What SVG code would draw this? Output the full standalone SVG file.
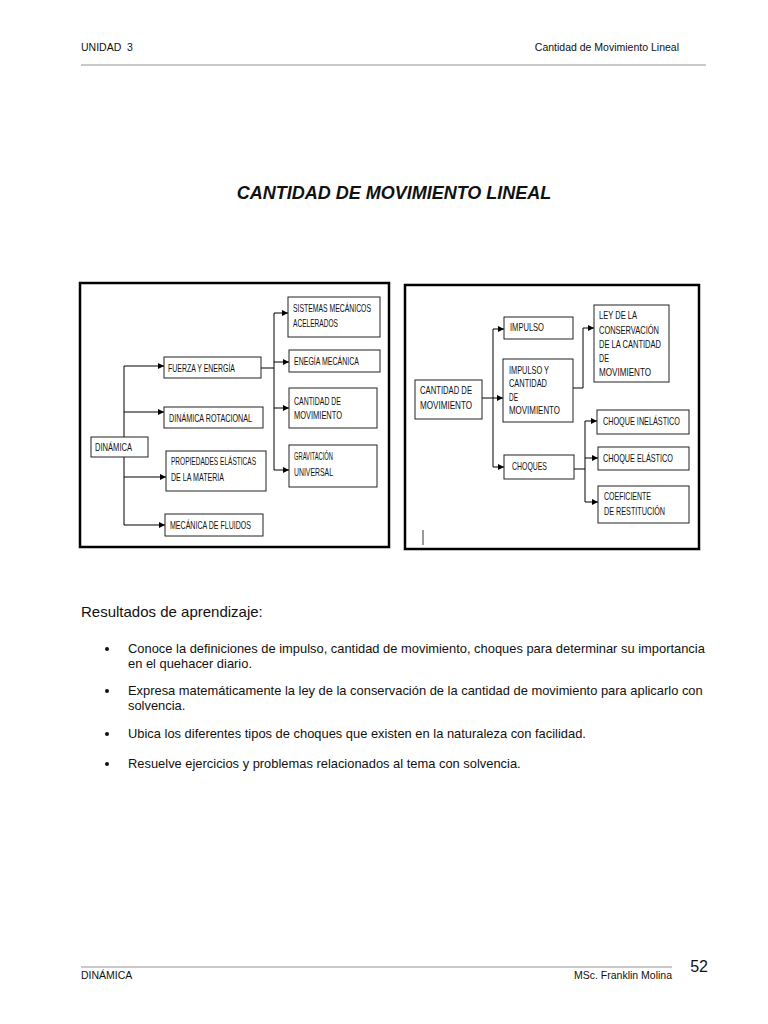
<svg xmlns="http://www.w3.org/2000/svg" width="768" height="1024" viewBox="0 0 768 1024">
<style>
.hd{font-family:"Liberation Sans",Arial,sans-serif;font-size:10.5px;fill:#111}
.bt{font-family:"Liberation Sans",Arial,sans-serif;font-size:12.9px;fill:#111}
.bx{fill:#fff;stroke:#222;stroke-width:1}
.fr{fill:#fff;stroke:#000;stroke-width:2.5}
.t{font-family:"Liberation Sans",Arial,sans-serif;font-size:10.3px;fill:#111}
.c{fill:none;stroke:#000;stroke-width:1}
</style>
<defs>
<marker id="ar" viewBox="0 0 6 6" refX="6" refY="3" markerWidth="6" markerHeight="6" markerUnits="userSpaceOnUse" orient="auto">
<path d="M0,0 L6,3 L0,6 z" fill="#000"/>
</marker>
</defs>
<rect width="768" height="1024" fill="#fff"/>
<text class="hd" x="81" y="51" xml:space="preserve">UNIDAD  3</text>
<text class="hd" x="679" y="51" text-anchor="end">Cantidad de Movimiento Lineal</text>
<line x1="81" y1="65" x2="706" y2="65" stroke="#777" stroke-width="0.8"/>
<text x="394" y="199" text-anchor="middle" font-family="Liberation Sans,Arial,sans-serif" font-size="18" font-weight="bold" font-style="italic" fill="#111">CANTIDAD DE MOVIMIENTO LINEAL</text>

<rect class="fr" x="80" y="283" width="309" height="264"/>
<rect class="fr" x="405" y="285" width="294" height="264"/>
<line x1="423" y1="530" x2="423" y2="545" stroke="#000" stroke-width="0.8"/>

<g id="connectors">
<path class="c" d="M124,366 V525"/>
<path class="c" d="M124,366 H164" marker-end="url(#ar)"/>
<path class="c" d="M124,412 H164" marker-end="url(#ar)"/>
<path class="c" d="M124,477 H166" marker-end="url(#ar)"/>
<path class="c" d="M124,525 H165" marker-end="url(#ar)"/>
<path class="c" d="M261,368 H274"/>
<path class="c" d="M274,313 V470"/>
<path class="c" d="M274,313 H288" marker-end="url(#ar)"/>
<path class="c" d="M274,362 H289" marker-end="url(#ar)"/>
<path class="c" d="M274,408 H289" marker-end="url(#ar)"/>
<path class="c" d="M274,470 H289" marker-end="url(#ar)"/>
<path class="c" d="M482,398 H503" marker-end="url(#ar)"/>
<path class="c" d="M493,329 V467"/>
<path class="c" d="M493,329 H504" marker-end="url(#ar)"/>
<path class="c" d="M493,467 H504" marker-end="url(#ar)"/>
<path class="c" d="M573,388 H583 V328 H594" marker-end="url(#ar)"/>
<path class="c" d="M574,469 H585"/>
<path class="c" d="M585,421 V502"/>
<path class="c" d="M585,421 H597" marker-end="url(#ar)"/>
<path class="c" d="M585,458 H598" marker-end="url(#ar)"/>
<path class="c" d="M585,502 H598" marker-end="url(#ar)"/>
</g>

<g id="n-dinamica"><rect class="bx" x="91" y="437" width="57" height="20"/><text class="t" x="95" y="451" textLength="37" lengthAdjust="spacingAndGlyphs">DINÁMICA</text></g>
<g id="n-fuerza"><rect class="bx" x="164" y="357" width="97" height="21"/><text class="t" x="168" y="372" textLength="67" lengthAdjust="spacingAndGlyphs">FUERZA Y ENERGÍA</text></g>
<g id="n-rotacional"><rect class="bx" x="164" y="407" width="99" height="21"/><text class="t" x="169" y="422" textLength="83" lengthAdjust="spacingAndGlyphs">DINÁMICA ROTACIONAL</text></g>
<g id="n-propiedades"><rect class="bx" x="166" y="451" width="100" height="40"/><text class="t" x="171" y="465" textLength="85" lengthAdjust="spacingAndGlyphs">PROPIEDADES ELÁSTICAS</text><text class="t" x="171" y="481" textLength="53" lengthAdjust="spacingAndGlyphs">DE LA MATERIA</text></g>
<g id="n-fluidos"><rect class="bx" x="165" y="514" width="98" height="22"/><text class="t" x="170" y="529" textLength="81" lengthAdjust="spacingAndGlyphs">MECÁNICA DE FLUIDOS</text></g>
<g id="n-sistemas"><rect class="bx" x="288" y="297" width="92" height="40"/><text class="t" x="293" y="312" textLength="78" lengthAdjust="spacingAndGlyphs">SISTEMAS MECÁNICOS</text><text class="t" x="293" y="327" textLength="45" lengthAdjust="spacingAndGlyphs">ACELERADOS</text></g>
<g id="n-enegia"><rect class="bx" x="289" y="350" width="91" height="22"/><text class="t" x="294" y="365" textLength="65" lengthAdjust="spacingAndGlyphs">ENEGÍA MECÁNICA</text></g>
<g id="n-cantidad1"><rect class="bx" x="289" y="388" width="88" height="40"/><text class="t" x="294" y="405" textLength="47" lengthAdjust="spacingAndGlyphs">CANTIDAD DE</text><text class="t" x="294" y="419" textLength="48" lengthAdjust="spacingAndGlyphs">MOVIMIENTO</text></g>
<g id="n-gravitacion"><rect class="bx" x="289" y="445" width="88" height="42"/><text class="t" x="294" y="460" textLength="39" lengthAdjust="spacingAndGlyphs">GRAVITACIÓN</text><text class="t" x="294" y="476" textLength="39" lengthAdjust="spacingAndGlyphs">UNIVERSAL</text></g>

<g id="n-cantidad2"><rect class="bx" x="415" y="380" width="67" height="39"/><text class="t" x="420" y="394" textLength="52" lengthAdjust="spacingAndGlyphs">CANTIDAD DE</text><text class="t" x="420" y="409" textLength="52" lengthAdjust="spacingAndGlyphs">MOVIMIENTO</text></g>
<g id="n-impulso"><rect class="bx" x="504" y="317" width="69" height="22"/><text class="t" x="510" y="331" textLength="34" lengthAdjust="spacingAndGlyphs">IMPULSO</text></g>
<g id="n-impulsoy"><rect class="bx" x="503" y="359" width="70" height="63"/><text class="t" x="509" y="374" textLength="40" lengthAdjust="spacingAndGlyphs">IMPULSO Y</text><text class="t" x="509" y="387" textLength="38" lengthAdjust="spacingAndGlyphs">CANTIDAD</text><text class="t" x="509" y="401" textLength="9" lengthAdjust="spacingAndGlyphs">DE</text><text class="t" x="509" y="414" textLength="51" lengthAdjust="spacingAndGlyphs">MOVIMIENTO</text></g>
<g id="n-choques"><rect class="bx" x="504" y="455" width="70" height="24"/><text class="t" x="512" y="470" textLength="35" lengthAdjust="spacingAndGlyphs">CHOQUES</text></g>
<g id="n-ley"><rect class="bx" x="594" y="305" width="75" height="77"/><text class="t" x="599" y="319" textLength="38" lengthAdjust="spacingAndGlyphs">LEY DE LA</text><text class="t" x="599" y="334" textLength="60" lengthAdjust="spacingAndGlyphs">CONSERVACIÓN</text><text class="t" x="599" y="348" textLength="62" lengthAdjust="spacingAndGlyphs">DE LA CANTIDAD</text><text class="t" x="599" y="362" textLength="10" lengthAdjust="spacingAndGlyphs">DE</text><text class="t" x="599" y="376" textLength="52" lengthAdjust="spacingAndGlyphs">MOVIMIENTO</text></g>
<g id="n-inelastico"><rect class="bx" x="597" y="410" width="92" height="24"/><text class="t" x="603" y="425" textLength="77" lengthAdjust="spacingAndGlyphs">CHOQUE INELÁSTICO</text></g>
<g id="n-elastico"><rect class="bx" x="598" y="447" width="91" height="23"/><text class="t" x="603" y="462" textLength="70" lengthAdjust="spacingAndGlyphs">CHOQUE ELÁSTICO</text></g>
<g id="n-coeficiente"><rect class="bx" x="598" y="486" width="91" height="37"/><text class="t" x="604" y="500" textLength="47" lengthAdjust="spacingAndGlyphs">COEFICIENTE</text><text class="t" x="604" y="515" textLength="61" lengthAdjust="spacingAndGlyphs">DE RESTITUCIÓN</text></g>

<text x="81" y="617" font-family="Liberation Sans,Arial,sans-serif" font-size="15" fill="#111">Resultados de aprendizaje:</text>
<g id="bullets">
<circle cx="107" cy="649" r="2" fill="#111"/>
<text class="bt" x="128" y="653">Conoce la definiciones de impulso, cantidad de movimiento, choques para determinar su importancia</text>
<text class="bt" x="128" y="668">en el quehacer diario.</text>
<circle cx="107" cy="691" r="2" fill="#111"/>
<text class="bt" x="128" y="695">Expresa matemáticamente la ley de la conservación de la cantidad de movimiento para aplicarlo con</text>
<text class="bt" x="128" y="710">solvencia.</text>
<circle cx="107" cy="734" r="2" fill="#111"/>
<text class="bt" x="128" y="738">Ubica los diferentes tipos de choques que existen en la naturaleza con facilidad.</text>
<circle cx="107" cy="764" r="2" fill="#111"/>
<text class="bt" x="128" y="768">Resuelve ejercicios y problemas relacionados al tema con solvencia.</text>
</g>

<line x1="81" y1="967" x2="672" y2="967" stroke="#777" stroke-width="0.8"/>
<text class="hd" x="81" y="979">DINÁMICA</text>
<text class="hd" x="672" y="979" text-anchor="end">MSc. Franklin Molina</text>
<text x="708" y="972" text-anchor="end" font-family="Liberation Sans,Arial,sans-serif" font-size="16" fill="#111">52</text>
</svg>
